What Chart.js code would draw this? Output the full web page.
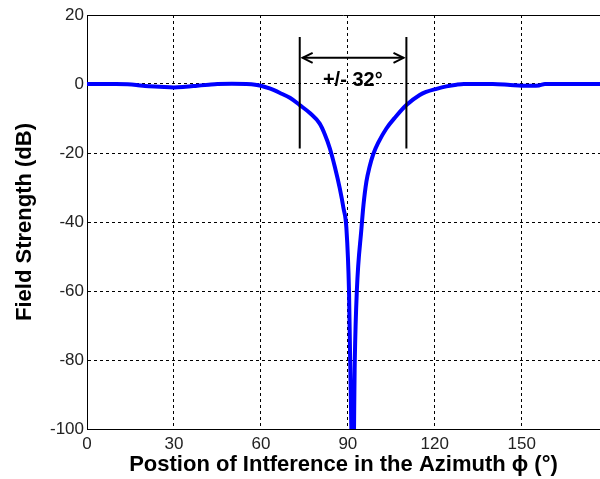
<!DOCTYPE html>
<html lang="en">
<head>
<meta charset="UTF-8">
<title>Field Strength vs Azimuth</title>
<script src="https://cdn.jsdelivr.net/npm/chart.js@4.4.0/dist/chart.umd.min.js"></script>
<style>
  html, body { margin: 0; padding: 0; background: #fff; }
</style>
</head>
<body>
<canvas id="myChart" width="600" height="479"></canvas>
<script>
  // azimuth (deg) and field strength (dB)
  const azimuth = [0, 5, 10, 14, 17, 20, 25, 30, 34, 38, 42, 45, 50, 55, 58, 60, 63, 66.6, 70, 73.4, 77, 80.3, 82, 83.8, 85.5, 87.2, 88.5, 89.5, 90.4, 90.8, 91.8, 92.4, 93.1, 94.7, 95.4, 96.4, 97.5, 98.7, 100.5, 103.3, 106.5, 110.2, 114.8, 117, 120.6, 124, 127.5, 130, 140, 146, 150, 156, 158, 165, 177];
  const fieldDb = [0, 0, 0, -0.1, -0.3, -0.6, -0.8, -1.0, -0.8, -0.5, -0.2, 0, 0.1, 0, -0.2, -0.5, -1.3, -2.6, -4.0, -6.1, -8.5, -11.5, -14.5, -18.7, -24, -30.2, -36, -41.8, -60, -80, -118, -80, -60, -41.8, -35, -28.3, -24, -20.5, -17, -12.9, -9.5, -6.1, -3.2, -2.3, -1.4, -0.7, -0.2, 0, 0, -0.3, -0.5, -0.4, 0, 0, 0];

  const xTicks = [0, 30, 60, 90, 120, 150];
  const yTicks = [-100, -80, -60, -40, -20, 0, 20];

  // beamwidth annotation
  const markerX = [73.4, 110.2];
  const markerTop = 13.6;
  const markerBottom = -18.7;
  const arrowX = [74.4, 109.2];
  const arrowY = 7.6;
  const arrowLabel = '+/- 32\u00B0';
  const labelAt = [91.7, 0.9];

  const fontFamily = "'Liberation Sans', Arial, Helvetica, sans-serif";

  let curve = azimuth.map((x, i) => ({x: x, y: fieldDb[i]}));
  let markers = [
    {x: markerX[0], y: markerTop}, {x: markerX[0], y: markerBottom},
    {x: markerX[0], y: null},
    {x: markerX[1], y: markerTop}, {x: markerX[1], y: markerBottom}
  ];
  let shaft = [{x: arrowX[0], y: arrowY}, {x: arrowX[1], y: arrowY}];

  // top frame line + arrow heads + label
  const extras = {
    id: 'extras',
    afterDatasetsDraw(chart) {
      const ctx = chart.ctx;
      const xs = chart.scales.x, ys = chart.scales.y;
      const area = chart.chartArea;
      ctx.save();
      ctx.strokeStyle = '#000';
      ctx.lineWidth = 1;
      ctx.beginPath();
      ctx.moveTo(area.left, area.top + 0.5);
      ctx.lineTo(area.right, area.top + 0.5);
      ctx.stroke();

      const py = ys.getPixelForValue(arrowY);
      const x0 = xs.getPixelForValue(arrowX[0]);
      const x1 = xs.getPixelForValue(arrowX[1]);
      ctx.lineWidth = 2;
      ctx.beginPath();
      ctx.moveTo(x0 + 10, py - 5); ctx.lineTo(x0, py); ctx.lineTo(x0 + 10, py + 5);
      ctx.moveTo(x1 - 10, py - 5); ctx.lineTo(x1, py); ctx.lineTo(x1 - 10, py + 5);
      ctx.stroke();

      ctx.fillStyle = '#000';
      ctx.font = 'bold 20px ' + fontFamily;
      ctx.textAlign = 'center';
      ctx.textBaseline = 'middle';
      ctx.fillText(arrowLabel, xs.getPixelForValue(labelAt[0]), ys.getPixelForValue(labelAt[1]));
      ctx.restore();
    }
  };

  let myChart = new Chart(document.getElementById('myChart').getContext('2d'), {
    type: 'line',
    data: {
      datasets: [
        {data: markers, borderColor: '#000', borderWidth: 2, pointRadius: 0, spanGaps: false, order: 0},
        {data: shaft, borderColor: '#000', borderWidth: 2, pointRadius: 0, order: 0},
        {data: curve, borderColor: '#0000ff', borderWidth: 4, pointRadius: 0, cubicInterpolationMode: 'monotone', order: 1}
      ]
    },
    options: {
      responsive: false,
      animation: false,
      devicePixelRatio: 1,
      layout: {padding: {top: 15, right: 0, left: 0, bottom: 0}},
      plugins: {legend: {display: false}, tooltip: {enabled: false}},
      scales: {
        x: {
          type: 'linear',
          min: 0, max: 177,
          afterBuildTicks: (s) => { s.ticks = xTicks.map(v => ({value: v})); },
          afterFit: (s) => { s.height = 50; },
          grid: {color: '#000', lineWidth: 1, drawTicks: false},
          border: {display: true, color: '#000', width: 1, dash: [3, 3]},
          ticks: {color: '#222', padding: 5, font: {family: fontFamily, size: 17}},
          title: {
            display: true,
            text: 'Postion of Intference in the Azimuth \u03D5 (\u00B0)',
            color: '#000',
            font: {family: fontFamily, size: 22, weight: 'bold'},
            padding: {top: 0, bottom: 1}
          }
        },
        y: {
          min: -100, max: 20,
          afterBuildTicks: (s) => { s.ticks = yTicks.map(v => ({value: v})); },
          afterFit: (s) => { s.width = 87; },
          grid: {color: '#000', lineWidth: 1, drawTicks: false},
          border: {display: true, color: '#000', width: 1, dash: [3, 3]},
          ticks: {color: '#222', padding: 3, font: {family: fontFamily, size: 17}},
          title: {
            display: true,
            text: 'Field Strength (dB)',
            color: '#000',
            font: {family: fontFamily, size: 22, weight: 'bold'},
            padding: {top: 12, bottom: 0}
          }
        }
      }
    },
    plugins: [extras]
  });
</script>
</body>
</html>
